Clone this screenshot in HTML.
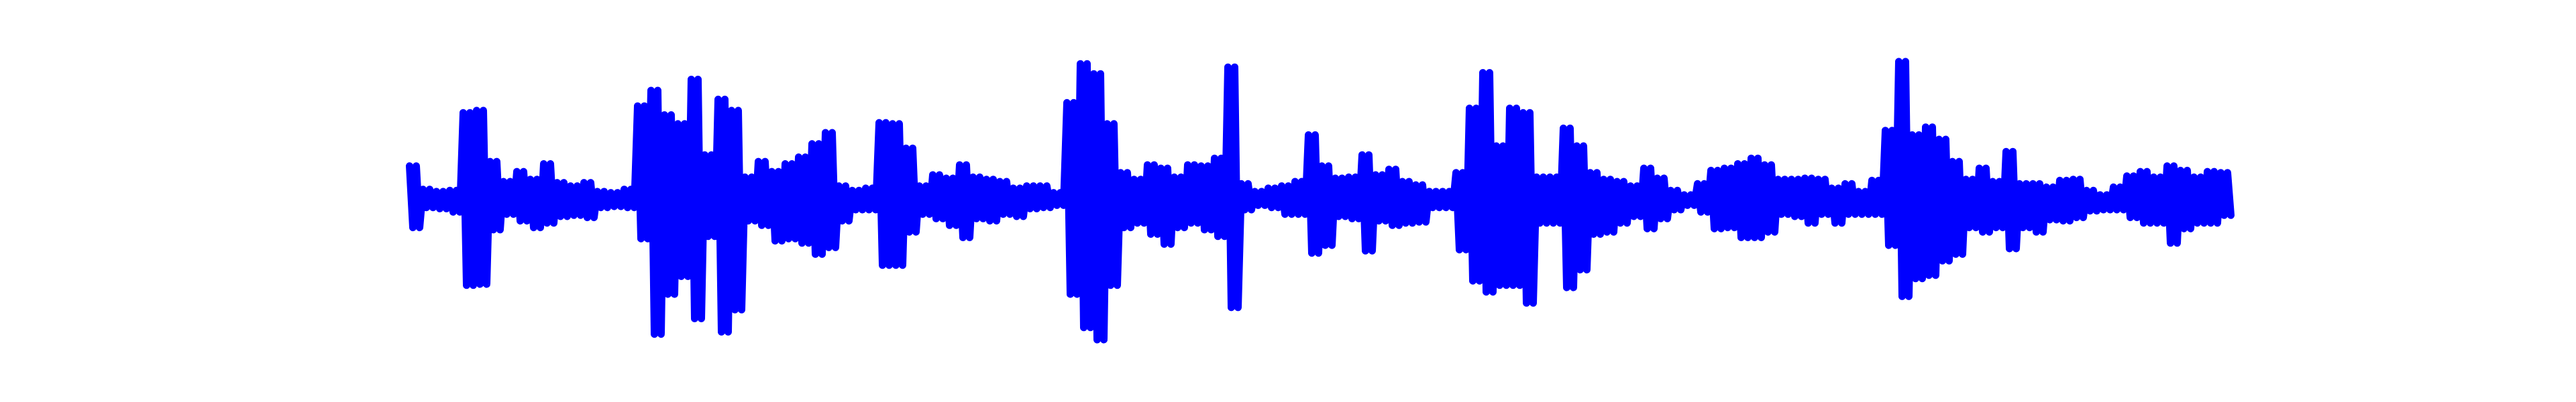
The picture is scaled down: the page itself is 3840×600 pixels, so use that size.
<!DOCTYPE html>
<html><head><meta charset="utf-8"><style>html,body{margin:0;padding:0;background:#fff;}svg{display:block;}</style></head>
<body>
<svg id="chart" width="3840" height="600" viewBox="0 0 3840 600" xmlns="http://www.w3.org/2000/svg">
<rect x="0" y="0" width="3840" height="600" fill="#ffffff"/>
<g id="plot"></g>
</svg>
<script>
const upperPeaks = [159,54,44,49,399,409,179,89,134,99,169,84,69,84,44,39,54,429,499,389,349,549,209,459,409,109,179,134,169,199,259,309,69,49,59,354,349,239,69,119,
104,164,109,99,89,59,69,69,39,444,619,574,349,129,99,164,149,109,164,159,194,604,79,44,59,69,89,299,159,104,109,209,119,144,89,74,44,44,129,
419,579,249,419,399,109,109,329,249,129,99,89,69,149,104,49,29,79,139,149,169,194,164,99,99,104,99,59,79,44,94,319,629,299,334,279,179,99,149,
89,224,79,79,64,94,99,49,29,64,114,134,109,159,139,109,134,129];
const lowerPeaks = [-151,-61,-66,-81,-411,-406,-161,-91,-121,-151,-131,-101,-96,-106,-61,-56,-61,-201,-631,-451,-371,-561,-191,-621,-521,-121,-141,-211,-201,-221,-271,-241,-121,-71,-71,-321,-321,-171,-91,-111,
-141,-196,-111,-121,-91,-101,-66,-61,-51,-451,-601,-656,-411,-151,-131,-181,-226,-151,-131,-161,-191,-511,-71,-51,-61,-91,-91,-266,-231,-101,-111,-256,-121,-141,-131,-126,-61,-61,-251,
-391,-441,-411,-411,-491,-131,-131,-421,-341,-181,-171,-131,-101,-156,-111,-71,-51,-81,-156,-151,-196,-196,-171,-91,-101,-131,-91,-131,-91,-91,-91,-231,-461,-381,-366,-301,-271,-151,-171,
-151,-246,-151,-171,-116,-121,-106,-76,-71,-71,-106,-131,-131,-221,-156,-131,-131,-96];

const X0 = 618, X1 = 3318, CY = 295, K = 0.3316, HALF = 5.5;
const n = upperPeaks.length;
function xScale(i){ return X0 + (X1 - X0) * i / (n - 1); }
function yScale(a){
  const off = Math.max(Math.abs(a) * K - HALF, 0);
  return a >= 0 ? CY - off : CY + off;
}
const step = (X1 - X0) / (n - 1);
const SUB = 4;
let d = '';
for (let i = 0; i < n; i++) {
  const x = xScale(i);
  const yt = yScale(upperPeaks[i]).toFixed(1), yb = yScale(lowerPeaks[i]).toFixed(1);
  for (let s = 0; s < SUB; s++) {
    const xx = x - step / 2 + step * (s + 0.5) / SUB;
    d += (i === 0 && s === 0 ? 'M' : 'L') + xx.toFixed(1) + ' ' + (s % 2 === 0 ? yt : yb);
  }
}
const NS = 'http://www.w3.org/2000/svg';
const path = document.createElementNS(NS, 'path');


path.setAttribute('d', d);
path.setAttribute('fill', 'none');
path.setAttribute('stroke', '#0000ff');
path.setAttribute('stroke-width', '11');
path.setAttribute('stroke-linecap', 'round');
path.setAttribute('stroke-linejoin', 'round');
document.getElementById('plot').appendChild(path);
</script>
</body></html>
